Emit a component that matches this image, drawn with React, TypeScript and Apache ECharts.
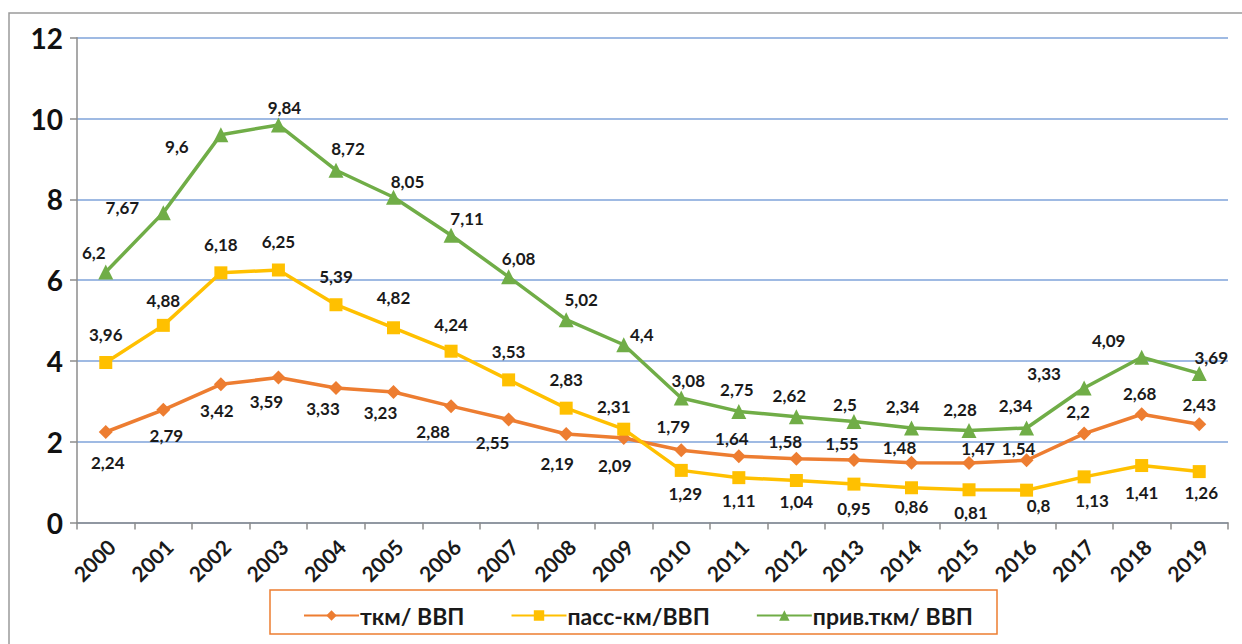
import React, { useEffect, useRef } from "react";
import * as echarts from "echarts";

const years = ["2000","2001","2002","2003","2004","2005","2006","2007","2008","2009","2010","2011","2012","2013","2014","2015","2016","2017","2018","2019"];
const tkm = [2.24, 2.79, 3.42, 3.59, 3.33, 3.23, 2.88, 2.55, 2.19, 2.09, 1.79, 1.64, 1.58, 1.55, 1.48, 1.47, 1.54, 2.2, 2.68, 2.43];
const pass = [3.96, 4.88, 6.18, 6.25, 5.39, 4.82, 4.24, 3.53, 2.83, 2.31, 1.29, 1.11, 1.04, 0.95, 0.86, 0.81, 0.8, 1.13, 1.41, 1.26];
const priv = [6.2, 7.67, 9.6, 9.84, 8.72, 8.05, 7.11, 6.08, 5.02, 4.4, 3.08, 2.75, 2.62, 2.5, 2.34, 2.28, 2.34, 3.33, 4.09, 3.69];
const seriesNames = ["ткм/ ВВП", "пасс-км/ВВП", "прив.ткм/ ВВП"];

// label offsets (styling) relative to each point
const tkmLabelOffsets = [[2,30],[3,26],[-4,26],[-12,24],[-13,21],[-13,20],[-18,25],[-16,23],[-9,29],[-9,27],[-8,-24],[-7,-18],[-11,-17],[-12,-16],[-12,-15],[9,-15],[-8,-12],[-6,-22],[-2,-21],[0,-20]];
const passLabelOffsets = [[0,-28],[0,-25],[0,-28],[0,-29],[0,-28],[0,-30],[0,-27],[0,-28],[0,-29],[-10,-23],[4,23],[0,23],[0,21],[0,24],[0,19],[2,23],[12,15],[8,24],[0,27],[2,21]];
const privLabelOffsets = [[-12,-20],[-41,-5],[-44,12],[6,-17],[12,-22],[14,-16],[16,-17],[10,-18],[15,-20],[18,-10],[7,-18],[-2,-22],[-7,-21],[-9,-17],[-9,-21],[-9,-21],[-11,-22],[-40,-14],[-33,-17],[12,-16]];
const allOffsets = [tkmLabelOffsets, passLabelOffsets, privLabelOffsets];

const fmt = (v: number) => String(v).replace(".", ",");

export default function App() {
  const ref = useRef<HTMLDivElement>(null);
  useEffect(() => {
    if (!ref.current) return;
    const chart = echarts.init(ref.current, null, { renderer: "svg" });
    const labelStyle = {
      show: true,
      position: "inside" as const,
      formatter: (p: any) => fmt(p.value),
      fontFamily: "Lato",
      fontWeight: "bold" as const,
      fontSize: 17,
      color: "#1a1a1a",
    };
    const colors = ["#ED7D31", "#FFC000", "#70AD47"];
    const symbols = ["diamond", "rect", "triangle"];
    const sizes = [14, 13, 15];
    const datas = [tkm, pass, priv];
    chart.setOption({
      animation: false,
      backgroundColor: "#ffffff",
      grid: { left: 77, right: 14, top: 37.7, bottom: 121.5, containLabel: false },
      graphic: [
        {
          type: "rect",
          shape: { x: 9, y: 13, width: 1260, height: 660 },
          style: { fill: "none", stroke: "#9a9a9a", lineWidth: 1.5 },
          silent: true,
          z: -10,
        },
        {
          type: "rect",
          shape: { x: 270, y: 590, width: 727, height: 44 },
          style: { fill: "#ffffff", stroke: "#ED7D31", lineWidth: 1.5 },
          silent: true,
          z: 0,
        },
      ],
      legend: {
        left: 298,
        top: 599,
        itemWidth: 55,
        itemHeight: 13,
        itemGap: 46,
        textStyle: { fontFamily: "Lato", fontWeight: "bold", fontSize: 23, color: "#1a1a1a", padding: [0, 0, 0, -4] },
        data: seriesNames,
        z: 10,
      },
      xAxis: {
        type: "category",
        data: years,
        boundaryGap: true,
        axisLine: { show: true, lineStyle: { color: "#8c8c8c", width: 1.5 } },
        axisTick: { show: true, length: 7, alignWithLabel: false, lineStyle: { color: "#8c8c8c", width: 1.5 } },
        axisLabel: {
          rotate: 45,
          interval: 0,
          margin: 26,
          fontFamily: "Lato",
          fontWeight: "bold",
          fontSize: 21,
          color: "#1a1a1a",
          padding: [0, -8, 0, 0],
        },
        splitLine: { show: false },
      },
      yAxis: {
        type: "value",
        min: 0,
        max: 12,
        interval: 2,
        axisLine: { show: true, lineStyle: { color: "#8c8c8c", width: 1.5 } },
        axisTick: { show: true, length: 7, lineStyle: { color: "#8c8c8c", width: 1.5 } },
        axisLabel: {
          margin: 14,
          fontFamily: "Lato",
          fontWeight: "bold",
          fontSize: 28,
          color: "#111111",
        },
        splitLine: { show: true, lineStyle: { color: "#7FA3DA", width: 1.5 } },
      },
      series: seriesNames.map((name, k) => ({
        name,
        type: "line",
        data: datas[k],
        symbol: symbols[k],
        symbolSize: sizes[k],
        showAllSymbol: true,
        lineStyle: { color: colors[k], width: 3.5 },
        itemStyle: { color: colors[k] },
        label: labelStyle,
        labelLayout: (params: any) => {
          const o = allOffsets[k][params.dataIndex] || [0, 0];
          return { dx: o[0], dy: o[1], hideOverlap: false };
        },
        z: 2 + k,
      })),
    });
    return () => chart.dispose();
  }, []);
  return <div ref={ref} style={{ width: 1242, height: 644, position: "absolute", left: 0, top: 0 }} />;
}
